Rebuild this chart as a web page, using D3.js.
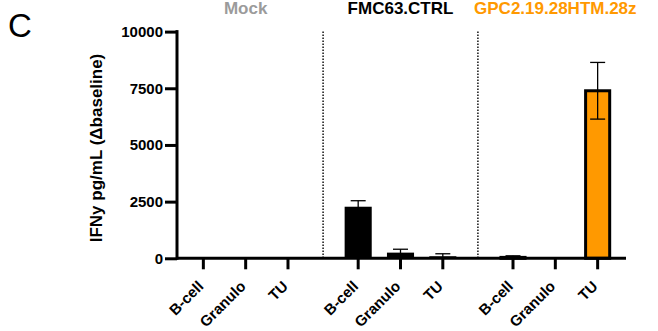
<!DOCTYPE html>
<html>
<head>
<meta charset="utf-8">
<script src="https://cdn.jsdelivr.net/npm/d3@7"></script>
<style>
  body { margin: 0; background: #fff; }
  text { font-family: "Liberation Sans", Arial, sans-serif; }
</style>
</head>
<body>
<div id="chart"></div>
<script>
// data (IFNy pg/mL, mean and SD)
const groups = ["Mock", "FMC63.CTRL", "GPC2.19.28HTM.28z"];
const targets = ["B-cell", "Granulo", "TU"];
const mockMean = [0, 0, 0];
const mockSd = [0, 0, 0];
const fmcMean = [2275, 250, 90];
const fmcSd = [265, 150, 110];
const gpcMean = [40, 0, 7390];
const gpcSd = [70, 0, 1250];
const yTicks = [0, 2500, 5000, 7500, 10000];
const groupColors = ["#9b9b9b", "#000000", "#ff9900"];
const barFills = ["#9b9b9b", "#000000", "#ff9900"];

const means = [mockMean, fmcMean, gpcMean];
const sds = [mockSd, fmcSd, gpcSd];

const width = 658, height = 331;
const axisX = 177, axisY = 258.3;

const svg = d3.select("#chart")
  .append("svg")
    .attr("width", width)
    .attr("height", height);

// scales
const y = d3.scaleLinear()
    .domain([0, 10000])
    .range([axisY, 31.6]);

const gx = d3.scaleBand()
    .domain(groups)
    .range([176, 625])
    .paddingInner(0.18)
    .paddingOuter(0.04);

const ix = d3.scaleBand()
    .domain(targets)
    .range([0, gx.bandwidth()])
    .paddingInner(0.36)
    .paddingOuter(0.18);

// flatten rows
const rows = [];
groups.forEach(function(g, gi) {
  targets.forEach(function(t, ti) {
    rows.push({group: g, gi: gi, target: t, mean: means[gi][ti], sd: sds[gi][ti]});
  });
});
const cx = d => gx(d.group) + ix(d.target) + ix.bandwidth() / 2;

// dotted separators between groups
const seps = groups.slice(0, -1);
svg.append("g")
  .selectAll("line")
  .data(seps)
  .join("line")
    .attr("x1", g => gx(g) + gx.bandwidth() + (gx.step() - gx.bandwidth()) / 2)
    .attr("x2", g => gx(g) + gx.bandwidth() + (gx.step() - gx.bandwidth()) / 2)
    .attr("y1", y(10000))
    .attr("y2", axisY)
    .attr("stroke", "#000")
    .attr("stroke-width", 1.4)
    .attr("stroke-dasharray", "1.4,1.6");

// bars
svg.append("g")
  .selectAll("rect")
  .data(rows.filter(d => d.mean > 0))
  .join("rect")
    .attr("x", d => d.gi === 2 ? cx(d) - ix.bandwidth() / 2 + 1.5 : cx(d) - ix.bandwidth() / 2)
    .attr("width", d => d.gi === 2 ? ix.bandwidth() - 3 : ix.bandwidth())
    .attr("y", d => y(d.mean))
    .attr("height", d => axisY - y(d.mean))
    .attr("fill", d => barFills[d.gi])
    .attr("stroke", d => d.gi === 2 ? "#000" : "none")
    .attr("stroke-width", 3);

// error bars
const err = svg.append("g")
  .selectAll("g")
  .data(rows.filter(d => d.sd > 0))
  .join("g")
    .attr("stroke", "#000")
    .attr("stroke-width", 1.3);
const lo = d => y(Math.max(0, d.mean - d.sd));
const hi = d => y(d.mean + d.sd);
err.append("line")
    .attr("x1", cx).attr("x2", cx)
    .attr("y1", lo).attr("y2", hi);
err.append("line")
    .attr("x1", d => cx(d) - 7.5).attr("x2", d => cx(d) + 7.5)
    .attr("y1", hi).attr("y2", hi);
err.append("line")
    .attr("x1", d => cx(d) - 7.5).attr("x2", d => cx(d) + 7.5)
    .attr("y1", lo).attr("y2", lo);

// y axis
const yAxis = svg.append("g")
    .attr("transform", `translate(${axisX},0)`)
    .call(d3.axisLeft(y).tickValues(yTicks).tickSize(12).tickPadding(2).tickFormat(d3.format("d")));
yAxis.select(".domain").remove();
yAxis.append("line")
    .attr("y1", y(10000) - 1.5).attr("y2", axisY + 1.5)
    .attr("stroke", "#000").attr("stroke-width", 3);
yAxis.selectAll(".tick line").attr("stroke-width", 3);
yAxis.selectAll(".tick text")
    .attr("font-size", 15)
    .attr("font-weight", "bold")
    .attr("fill", "#000");

// x axis line and ticks
const xAxis = svg.append("g");
xAxis.append("line")
    .attr("x1", axisX).attr("x2", 626)
    .attr("y1", axisY).attr("y2", axisY)
    .attr("stroke", "#000").attr("stroke-width", 3);
xAxis.selectAll(".xtick")
  .data(rows)
  .join("line")
    .attr("class", "xtick")
    .attr("x1", cx).attr("x2", cx)
    .attr("y1", axisY).attr("y2", axisY + 11)
    .attr("stroke", "#000").attr("stroke-width", 3);

// rotated category labels
xAxis.selectAll(".xlabel")
  .data(rows)
  .join("text")
    .attr("class", "xlabel")
    .attr("transform", d => `translate(${cx(d) + 1},${axisY + 29}) rotate(-45)`)
    .attr("text-anchor", "end")
    .attr("font-size", 15)
    .attr("font-weight", "bold")
    .text(d => d.target);

// group headers
svg.append("g")
  .selectAll("text")
  .data(groups)
  .join("text")
    .attr("x", g => gx(g) + gx.bandwidth() / 2)
    .attr("y", 13.5)
    .attr("text-anchor", "middle")
    .attr("font-size", 17)
    .attr("font-weight", "bold")
    .attr("fill", (g, i) => groupColors[i])
    .text(g => g);

// y axis title
svg.append("text")
    .attr("transform", "translate(102,148) rotate(-90)")
    .attr("text-anchor", "middle")
    .attr("font-size", 17)
    .attr("font-weight", "bold")
    .text("IFNy pg/mL (\u0394baseline)");

// panel letter
svg.append("text")
    .attr("x", 8)
    .attr("y", 37)
    .attr("font-size", 33)
    .text("C");
</script>
</body>
</html>
